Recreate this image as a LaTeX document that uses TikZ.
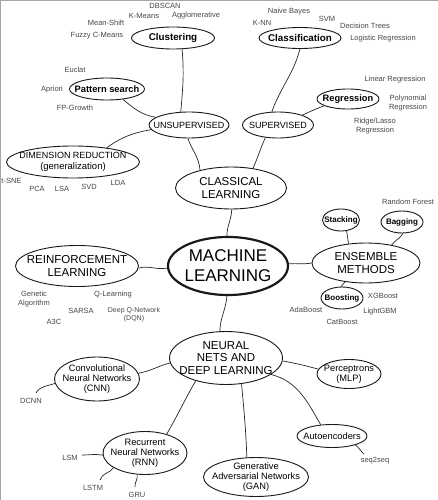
\documentclass[tikz,border=0pt]{standalone}
\usepackage{fontspec}
\setmainfont{Liberation Sans}
\usetikzlibrary{shapes.geometric}
\begin{document}
\begin{tikzpicture}[x=1pt,y=1pt,
  bub/.style={draw=black!90, ellipse, inner sep=0pt, line width=0.9pt},
  lbl/.style={align=center, inner sep=0pt, text=black},
  leaf/.style={font=\fontsize{7.5}{8.5}\selectfont, text=black!72, align=center, inner sep=0pt},
  link/.style={line width=0.7pt, draw=black!85},
  smallb/.style={lbl, font=\bfseries\fontsize{9.8}{11}\selectfont},
  tinyb/.style={lbl, font=\bfseries\fontsize{8}{9}\selectfont},
  midr/.style={lbl, font=\fontsize{9.3}{10}\selectfont},
  capsr/.style={lbl, font=\fontsize{9}{11}\selectfont},
  bigr/.style={lbl, font=\fontsize{11.5}{12.5}\selectfont}]
\useasboundingbox (0,0) rectangle (438,-500);
\draw[black!35, line width=1.2pt] (0.6,-500) -- (0.6,-0.6) -- (438,-0.6);

% ---------- bubbles ----------
\node[bub, minimum width=83pt, minimum height=22pt] (clu) at (173,-38) {};
\node[smallb] (clut) at (clu) {Clustering};
\node[bub, minimum width=75pt, minimum height=22pt] (pat) at (107,-89) {};
\node[smallb, font=\bfseries\fontsize{9.3}{11}\selectfont] (patt) at (pat) {Pattern search};
\node[bub, minimum width=80pt, minimum height=26pt] (uns) at (189,-125) {};
\node[capsr] (unst) at (uns) {UNSUPERVISED};
\node[bub, minimum width=133pt, minimum height=32pt] (dim) at (73,-162) {};
\node[capsr] (dimt) at (dim) {DIMENSION REDUCTION\\{\fontsize{9.5}{11}\selectfont(generalization)}};
\node[bub, minimum width=111pt, minimum height=42pt] (cla) at (231,-188) {};
\node[bigr] (clat) at (cla) {CLASSICAL\\LEARNING};
\node[bub, line width=2.2pt, minimum width=120pt, minimum height=58pt] (ml) at (228,-266) {};
\node[lbl, font=\fontsize{17}{20}\selectfont] (mlt) at (ml) {MACHINE\\LEARNING};
\node[bub, minimum width=82pt, minimum height=21pt] (cls) at (300,-38) {};
\node[smallb] (clst) at (cls) {Classification};
\node[bub, minimum width=62pt, minimum height=20pt] (reg) at (348,-99) {};
\node[smallb, font=\bfseries\fontsize{9.3}{11}\selectfont] (regt) at (reg) {Regression};
\node[bub, minimum width=71pt, minimum height=26pt] (sup) at (278,-125) {};
\node[capsr] (supt) at (sup) {SUPERVISED};
\node[bub, minimum width=108pt, minimum height=40pt] (ens) at (366,-263) {};
\node[bigr] (enst) at (ens) {ENSEMBLE\\METHODS};
\node[bub, minimum width=37pt, minimum height=22pt] (stk) at (341,-220) {};
\node[tinyb] (stkt) at (stk) {Stacking};
\node[bub, minimum width=42pt, minimum height=22pt] (bag) at (402,-222) {};
\node[tinyb] (bagt) at (bag) {Bagging};
\node[bub, minimum width=42pt, minimum height=22pt] (bst) at (342,-298) {};
\node[tinyb] (bstt) at (bst) {Boosting};
\node[bub, minimum width=123pt, minimum height=41pt] (rl) at (77,-266) {};
\node[bigr] (rlt) at (rl) {REINFORCEMENT\\LEARNING};
\node[bub, minimum width=113pt, minimum height=53pt] (nn) at (226,-358) {};
\node[bigr] (nnt) at (nn) {NEURAL\\NETS AND\\DEEP LEARNING};
\node[bub, minimum width=64pt, minimum height=29pt] (mlp) at (349,-374) {};
\node[midr] (mlpt) at (mlp) {Perceptrons\\(MLP)};
\node[bub, minimum width=70pt, minimum height=23pt] (ae) at (332,-436) {};
\node[midr] (aet) at (ae) {Autoencoders};
\node[bub, minimum width=105pt, minimum height=39pt] (gan) at (256,-477) {};
\node[midr] (gant) at (gan) {Generative\\Adversarial Networks\\(GAN)};
\node[bub, minimum width=85pt, minimum height=44pt] (cnn) at (97,-379) {};
\node[midr] (cnnt) at (cnn) {Convolutional\\Neural Networks\\(CNN)};
\node[bub, minimum width=84pt, minimum height=43pt] (rnn) at (145,-453) {};
\node[midr] (rnnt) at (rnn) {Recurrent\\Neural Networks\\(RNN)};

% ---------- leaves ----------
\node[leaf] (dbscan) at (165,-6) {DBSCAN};
\node[leaf] (kmeans) at (144,-16) {K-Means};
\node[leaf] (agglo) at (196,-16) {Agglomerative};
\node[leaf] (meanshift) at (106,-23) {Mean-Shift};
\node[leaf] (fuzzy) at (97,-36) {Fuzzy C-Means};
\node[leaf] (euclat) at (75,-70) {Euclat};
\node[leaf] (apriori) at (52,-90) {Apriori};
\node[leaf] (fpg) at (75,-108) {FP-Growth};
\node[leaf] (tsne) at (11.5,-181) {t-SNE};
\node[leaf] (pca) at (37,-189) {PCA};
\node[leaf] (lsa) at (62,-189) {LSA};
\node[leaf] (svd) at (89,-187) {SVD};
\node[leaf] (lda) at (118,-183) {LDA};
\node[leaf] (naive) at (289,-12) {Naive Bayes};
\node[leaf] (knn) at (262,-23) {K-NN};
\node[leaf] (svm) at (327,-19) {SVM};
\node[leaf] (dtree) at (365,-26) {Decision Trees};
\node[leaf] (logreg) at (383,-39) {Logistic Regression};
\node[leaf] (linreg) at (395,-80) {Linear Regression};
\node[leaf] (polyreg) at (408,-103) {Polynomial\\Regression};
\node[leaf] (ridge) at (375,-126) {Ridge/Lasso\\Regression};
\node[leaf] (rf) at (408,-202) {Random Forest};
\node[leaf] (xgb) at (383,-296) {XGBoost};
\node[leaf] (lgbm) at (380,-312) {LightGBM};
\node[leaf] (ada) at (306,-310) {AdaBoost};
\node[leaf] (cat) at (342,-322) {CatBoost};
\node[leaf] (genetic) at (34,-299) {Genetic\\Algorithm};
\node[leaf] (qlearn) at (113,-295) {Q-Learning};
\node[leaf] (sarsa) at (81,-311) {SARSA};
\node[leaf, font=\fontsize{7}{8}\selectfont] (dqn) at (134,-315) {Deep Q-Network\\(DQN)};
\node[leaf] (a3c) at (54,-322) {A3C};
\node[leaf] (dcnn) at (31,-401) {DCNN};
\node[leaf] (seq) at (375,-461) {seq2seq};
\node[leaf] (lsm) at (70,-458) {LSM};
\node[leaf] (lstm) at (93,-488) {LSTM};
\node[leaf] (gru) at (137,-495) {GRU};

% ---------- connectors ----------
\draw[link] (clu.-51) to[out=-85,in=85] (uns.122);
\draw[link] (pat.-33) to[out=-40,in=170] (uns.167);
\draw[link] (dim.23) to[out=35,in=190] (uns.187);
\draw[link] (uns.-95) to[out=-70,in=95] (cla.150);
\draw[link] (sup.-135) to[out=-115,in=65] (cla.42);
\draw[link] (cls.-90) to[out=-105,in=70] (sup.115);
\draw[link] (reg.196) to[out=200,in=25] (sup.22);
\draw[link] (cla.-88) to[out=-92,in=90] (ml.92);
\draw[link] (ml.182) to[out=190,in=15] (rl.-2);
\draw[link] (ml.2) to[out=5,in=190] (ens.180);
\draw[link] (stk.-63) to[out=-80,in=100] (ens.132);
\draw[link] (bag.-85) to[out=-120,in=55] (ens.35);
\draw[link] (ens.-138) to[out=-120,in=60] (bst.95);
\draw[link] (ml.-92) to[out=-95,in=88] (nn.103);
\draw[link] (nn.185) to[out=195,in=10] (cnn.8);
\draw[link] (nn.-143) to[out=-120,in=60] (rnn.41);
\draw[link] (nn.-59) to[out=-85,in=92] (gan.115);
\draw[link] (nn.-3) to[out=-10,in=165] (mlp.171);
\draw[link] (nn.-20) to[out=-15,in=120] (ae.135);
\coordinate (dcnnE) at (36,-393);
\draw[link] (cnn.186) to[out=200,in=60] (dcnnE);
\coordinate (seqE) at (364,-454);
\draw[link] (ae.-21) to[out=-35,in=140] (seqE);
\coordinate (lsmE) at (82,-455);
\draw[link] (rnn.183) to[out=170,in=0] (lsmE);
\coordinate (lstmE) at (100,-480);
\draw[link] (rnn.-155) to[out=235,in=75] (lstmE);
\coordinate (gruE) at (135,-487);
\draw[link] (rnn.-110) to[out=-80,in=95] (gruE);
\end{tikzpicture}
\end{document}
